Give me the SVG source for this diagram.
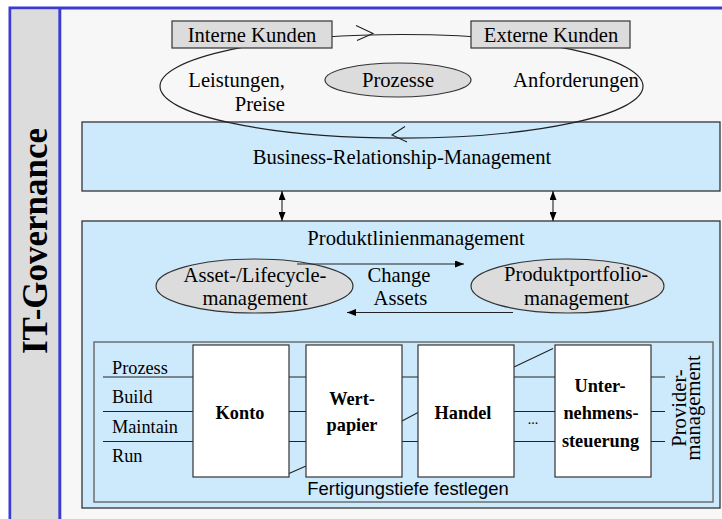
<svg xmlns="http://www.w3.org/2000/svg" width="722" height="519" viewBox="0 0 722 519">
<style>
text { font-family: "Liberation Serif", "Times New Roman", serif; font-size: 20.6px; fill: #000; }
.c { text-anchor: middle; }
.e { text-anchor: end; }
.m { font-size: 18.3px; }
.b { font-weight: bold; }
.sans { font-family: "Liberation Sans", Arial, sans-serif; font-size: 18.4px; }
.blue { fill: #cdeafc; stroke: #333; stroke-width: 1.3; }
.gray { fill: #dcdcdc; stroke: #333; stroke-width: 1.2; }
.card { fill: #fff; stroke: #333; stroke-width: 1.2; }
.ln { fill: none; stroke: #222; stroke-width: 1.1; }
</style>
<defs>
<marker id="ah" viewBox="0 0 9 7" refX="9" refY="3.5" markerWidth="9" markerHeight="7" markerUnits="userSpaceOnUse" orient="auto-start-reverse">
<path d="M0,0 L9,3.5 L0,7 z" fill="#000"/>
</marker>
</defs>
<rect x="0" y="0" width="722" height="519" fill="#fff"/>
<g id="frame">
<rect x="10" y="8" width="730" height="530" fill="#f7f7f7" stroke="#3c3cd0" stroke-width="3"/>
<rect x="11.5" y="9.5" width="47" height="520" fill="#dcdcdc"/>
<line x1="59.8" y1="8" x2="59.8" y2="519" stroke="#3c3cd0" stroke-width="3"/>
<text class="b" transform="translate(47,241) rotate(-90)" text-anchor="middle" style="font-size:35px">IT-Governance</text>
</g>
<g id="brm">
<rect class="blue" x="82" y="122" width="638" height="69"/>
<text class="c" x="402" y="164">Business-Relationship-Management</text>
</g>
<g id="produktlinien">
<rect class="blue" x="82" y="221" width="638" height="287"/>
<text class="c" x="416" y="245">Produktlinienmanagement</text>
</g>
<g id="zyklus">
<ellipse cx="401.5" cy="86.3" rx="241.5" ry="51.8" fill="none" stroke="#222" stroke-width="1.2"/>
<polyline class="ln" points="356,25.5 373,33.5 357,40.5" stroke-width="1.3"/>
<polyline class="ln" points="405,126.5 392,135 407,142" stroke-width="1.3"/>
<text class="e" x="285" y="87">Leistungen,</text>
<text class="e" x="285" y="111">Preise</text>
<text class="c" x="576" y="87">Anforderungen</text>
</g>
<g id="interne">
<rect class="gray" x="172" y="21" width="160" height="27"/>
<text class="c" x="252" y="42">Interne Kunden</text>
</g>
<g id="externe">
<rect class="gray" x="471" y="21" width="159" height="27"/>
<text class="c" x="551" y="42">Externe Kunden</text>
</g>
<g id="prozesse">
<ellipse class="gray" cx="398" cy="80" rx="73" ry="17"/>
<text class="c" x="398" y="87">Prozesse</text>
</g>
<g id="asset">
<ellipse class="gray" cx="254.5" cy="286" rx="98.5" ry="27"/>
<text class="c" x="255" y="282">Asset-/Lifecycle-</text>
<text class="c" x="255" y="305">management</text>
</g>
<g id="portfolio">
<ellipse class="gray" cx="567.5" cy="286" rx="96.5" ry="27"/>
<text class="c" x="576" y="281">Produktportfolio-</text>
<text class="c" x="576.5" y="305">management</text>
</g>
<g id="change">
<text class="c" x="399" y="282">Change</text>
<text class="c" x="400.5" y="305">Assets</text>
</g>
<g id="fertigung">
<rect x="94" y="342" width="619" height="160" fill="#cdeafc" stroke="#666" stroke-width="1.4"/>
<text class="m" x="112" y="374">Prozess</text>
<text class="m" x="112" y="403">Build</text>
<text class="m" x="112" y="433">Maintain</text>
<text class="m" x="112" y="462">Run</text>
<text class="sans c" x="408" y="495">Fertigungstiefe festlegen</text>
<text transform="translate(686,408) rotate(-90)" text-anchor="middle" style="font-size:20.6px">Provider-</text>
<text transform="translate(700,408) rotate(-90)" text-anchor="middle" style="font-size:20.6px">management</text>
</g>
<g id="connectors">
<line class="ln" x1="282" y1="191" x2="282" y2="221" marker-start="url(#ah)" marker-end="url(#ah)"/>
<line class="ln" x1="553" y1="191" x2="553" y2="221" marker-start="url(#ah)" marker-end="url(#ah)"/>
<line class="ln" x1="297" y1="264" x2="464" y2="264" marker-end="url(#ah)"/>
<line class="ln" x1="513" y1="312.5" x2="347" y2="312.5" marker-end="url(#ah)"/>
<path class="ln" d="M103,377 H193 M103,411.5 H193 M103,441.5 H193"/>
<path class="ln" d="M289,377 H306 M289,411.5 H306 M289,441.5 H306 M289,473.5 L306,466"/>
<path class="ln" d="M402,377 H418 M402,441.5 H418 M402,421 L418,412.5"/>
<path class="ln" d="M514,367 L553,348.5 M514,377 H555 M514,411.5 H555 M514,441.5 H555"/>
<path class="ln" d="M651,377 H665 M651,411.5 H665 M651,441.5 H665"/>
</g>
<g id="konto">
<rect class="card" x="193" y="345" width="96" height="132"/>
<text class="m b c" x="240" y="419">Konto</text>
</g>
<g id="wertpapier">
<rect class="card" x="306" y="345" width="96" height="132"/>
<text class="m b c" x="352" y="405">Wert-</text>
<text class="m b c" x="352" y="431">papier</text>
</g>
<g id="handel">
<rect class="card" x="418" y="345" width="96" height="132"/>
<text class="m b c" x="463" y="419">Handel</text>
</g>
<g id="dots">
<text class="c" x="533" y="424" style="font-size:14px">...</text>
</g>
<g id="unternehmenssteuerung">
<rect class="card" x="555" y="345" width="96" height="132"/>
<text class="m b c" x="600" y="391.7">Unter-</text>
<text class="m b c" x="601" y="419.3">nehmens-</text>
<text class="m b c" x="600.5" y="447.3">steuerung</text>
</g>
</svg>
